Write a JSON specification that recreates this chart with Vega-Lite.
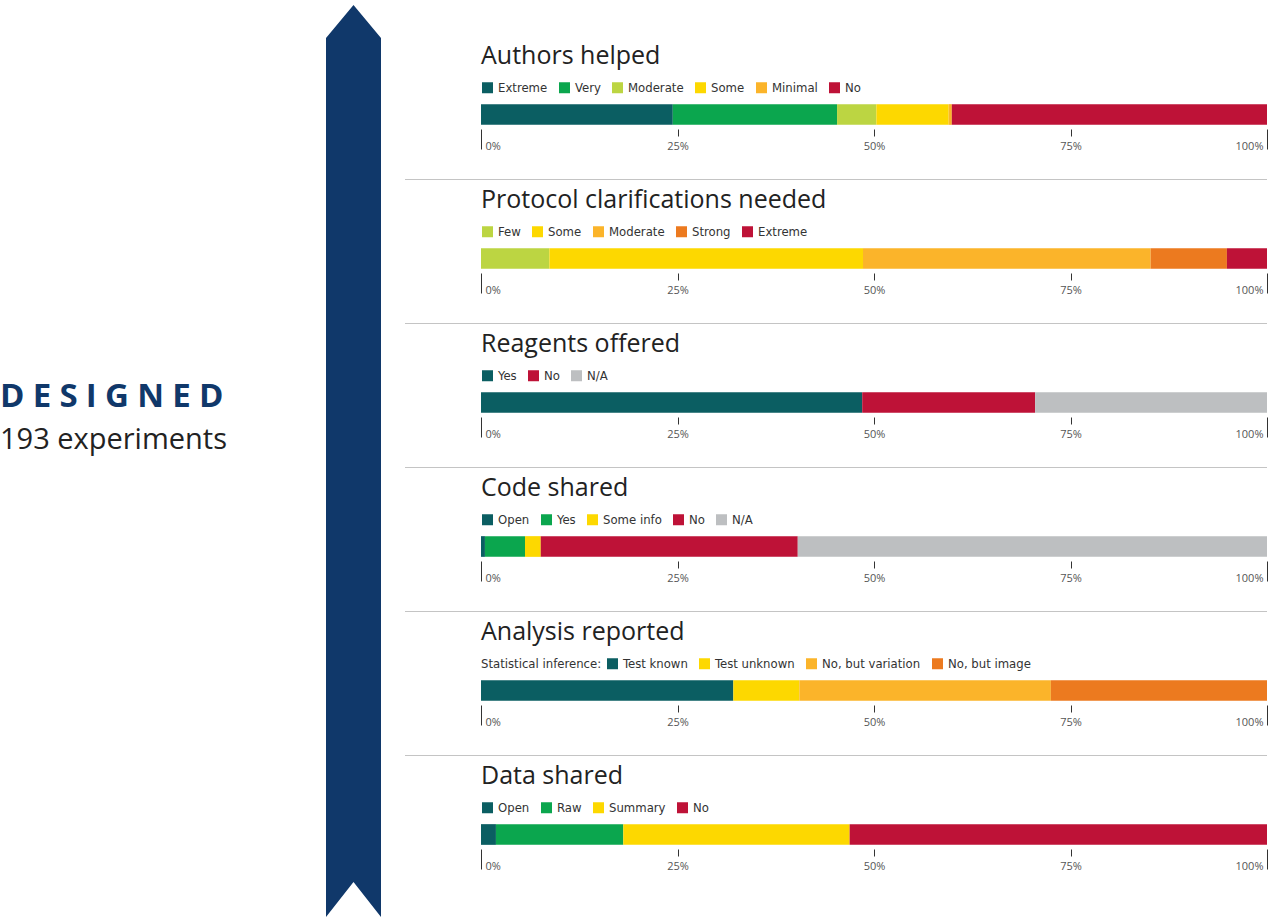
{
  "$schema": "https://vega.github.io/schema/vega-lite/v6.json",
  "background": "white",
  "padding": {"left": 0, "top": 5, "right": 5, "bottom": 5},
  "config": {
    "view": {"stroke": null},
    "title": {"anchor": "start", "dx": 76, "fontSize": 25, "font": "Open Sans", "fontWeight": "normal", "color": "#222222", "offset": 12},
    "legend": {"title": null, "orient": "none", "legendX": 76, "legendY": -22, "direction": "horizontal", "symbolType": "square", "symbolSize": 121, "symbolStrokeWidth": 0, "symbolOpacity": 1, "labelFont": "DejaVu Sans Condensed", "labelFontSize": 13, "labelColor": "#333333", "columnPadding": 10, "labelOffset": 4},
    "axisX": {"format": ".0%", "title": null, "domain": false, "grid": false, "offset": 3, "tickColor": "#333333", "labelFont": "Open Sans", "labelFontSize": 11, "labelColor": "#555555",
      "tickSize": {"expr": "datum.value == 0 || datum.value == 1 ? 20 : 7"},
      "labelPadding": {"expr": "datum.value == 0 || datum.value == 1 ? -9 : 4"},
      "labelAlign": {"expr": "datum.value == 0 ? 'left' : datum.value == 1 ? 'right' : 'center'"},
      "labelOffset": {"expr": "datum.value == 0 ? 4 : datum.value == 1 ? -4 : 0"}}
  },
  "datasets": {
    "survey": [
      {"q": "Authors helped", "cat": "Extreme", "pct": 24.4, "i": 0},
      {"q": "Authors helped", "cat": "Very", "pct": 20.9, "i": 1},
      {"q": "Authors helped", "cat": "Moderate", "pct": 5.0, "i": 2},
      {"q": "Authors helped", "cat": "Some", "pct": 9.2, "i": 3},
      {"q": "Authors helped", "cat": "Minimal", "pct": 0.4, "i": 4},
      {"q": "Authors helped", "cat": "No", "pct": 40.1, "i": 5},
      {"q": "Protocol clarifications needed", "cat": "Few", "pct": 8.7, "i": 0},
      {"q": "Protocol clarifications needed", "cat": "Some", "pct": 39.9, "i": 1},
      {"q": "Protocol clarifications needed", "cat": "Moderate", "pct": 36.6, "i": 2},
      {"q": "Protocol clarifications needed", "cat": "Strong", "pct": 9.7, "i": 3},
      {"q": "Protocol clarifications needed", "cat": "Extreme", "pct": 5.1, "i": 4},
      {"q": "Reagents offered", "cat": "Yes", "pct": 48.5, "i": 0},
      {"q": "Reagents offered", "cat": "No", "pct": 22.0, "i": 1},
      {"q": "Reagents offered", "cat": "N/A", "pct": 29.5, "i": 2},
      {"q": "Code shared", "cat": "Open", "pct": 0.5, "i": 0},
      {"q": "Code shared", "cat": "Yes", "pct": 5.1, "i": 1},
      {"q": "Code shared", "cat": "Some info", "pct": 2.0, "i": 2},
      {"q": "Code shared", "cat": "No", "pct": 32.7, "i": 3},
      {"q": "Code shared", "cat": "N/A", "pct": 59.7, "i": 4},
      {"q": "Analysis reported", "cat": "Test known", "pct": 32.1, "i": 0},
      {"q": "Analysis reported", "cat": "Test unknown", "pct": 8.4, "i": 1},
      {"q": "Analysis reported", "cat": "No, but variation", "pct": 32.0, "i": 2},
      {"q": "Analysis reported", "cat": "No, but image", "pct": 27.5, "i": 3},
      {"q": "Data shared", "cat": "Open", "pct": 1.9, "i": 0},
      {"q": "Data shared", "cat": "Raw", "pct": 16.2, "i": 1},
      {"q": "Data shared", "cat": "Summary", "pct": 28.8, "i": 2},
      {"q": "Data shared", "cat": "No", "pct": 53.1, "i": 3}
    ],
    "one": [{"item": "blank"}]
  },
  "spacing": 24,
  "resolve": {"scale": {"color": "independent"}, "legend": {"color": "independent"}},
  "hconcat": [
    {
      "width": 302, "height": 372,
      "data": {"name": "one"},
      "title": {"text": "D\u2005E\u2005S\u2005I\u2005G\u2005N\u2005E\u2005D", "subtitle": "193 experiments", "orient": "bottom", "anchor": "start", "dx": 0, "offset": 4,
        "font": "Open Sans", "fontSize": 33, "fontWeight": "bold", "color": "#10386a",
        "subtitleFont": "Open Sans", "subtitleFontSize": 29, "subtitleColor": "#222222", "subtitlePadding": 12},
      "mark": {"type": "text", "text": ""},
      "encoding": {}
    },
    {
      "width": 55, "height": 912,
      "data": {"name": "one"},
      "mark": {"type": "point", "filled": true, "opacity": 1, "strokeWidth": 0, "color": "#10386a", "size": 831744,
        "shape": "M0,-1L0.0603,-0.9276L0.0603,1L0,0.9232L-0.0603,1L-0.0603,-0.9276Z"},
      "encoding": {}
    },
    {
      "spacing": 3,
      "resolve": {"scale": {"color": "independent"}, "legend": {"color": "independent"}},
      "vconcat": [
        {"width": 862, "height": 36, "data": {"name": "one"}, "mark": {"type": "text", "text": ""}, "encoding": {}},
        {
          "width": 862, "height": 23,
          "data": {"name": "survey"},
          "transform": [{"filter": "datum.q == 'Authors helped'"}],
          "title": "Authors helped",
          "mark": {"type": "bar"},
          "encoding": {
            "x": {"field": "pct", "type": "quantitative", "stack": "normalize", "scale": {"domain": [-0.0967, 1], "nice": false, "zero": false},
              "axis": {"values": [0, 0.25, 0.5, 0.75, 1]}},
            "color": {"field": "cat", "type": "nominal",
              "scale": {"domain": ["Extreme", "Very", "Moderate", "Some", "Minimal", "No"], "range": ["#0b5e62", "#0ba64e", "#bcd542", "#fdd800", "#fbb42a", "#be1237"]}},
            "order": {"field": "i"}
          }
        },
        {"width": 862, "height": 16, "data": {"name": "one"}, "mark": {"type": "text", "text": ""}, "encoding": {}},
        {"width": 862, "height": 1, "data": {"name": "one"}, "view": {"fill": "#c4c4c4", "stroke": null}, "mark": {"type": "text", "text": ""}, "encoding": {}},
        {
          "width": 862, "height": 23,
          "data": {"name": "survey"},
          "transform": [{"filter": "datum.q == 'Protocol clarifications needed'"}],
          "title": "Protocol clarifications needed",
          "mark": {"type": "bar"},
          "encoding": {
            "x": {"field": "pct", "type": "quantitative", "stack": "normalize", "scale": {"domain": [-0.0967, 1], "nice": false, "zero": false},
              "axis": {"values": [0, 0.25, 0.5, 0.75, 1]}},
            "color": {"field": "cat", "type": "nominal",
              "scale": {"domain": ["Few", "Some", "Moderate", "Strong", "Extreme"], "range": ["#bcd542", "#fdd800", "#fbb42a", "#ec7a1f", "#be1237"]}},
            "order": {"field": "i"}
          }
        },
        {"width": 862, "height": 16, "data": {"name": "one"}, "mark": {"type": "text", "text": ""}, "encoding": {}},
        {"width": 862, "height": 1, "data": {"name": "one"}, "view": {"fill": "#c4c4c4", "stroke": null}, "mark": {"type": "text", "text": ""}, "encoding": {}},
        {
          "width": 862, "height": 23,
          "data": {"name": "survey"},
          "transform": [{"filter": "datum.q == 'Reagents offered'"}],
          "title": "Reagents offered",
          "mark": {"type": "bar"},
          "encoding": {
            "x": {"field": "pct", "type": "quantitative", "stack": "normalize", "scale": {"domain": [-0.0967, 1], "nice": false, "zero": false},
              "axis": {"values": [0, 0.25, 0.5, 0.75, 1]}},
            "color": {"field": "cat", "type": "nominal",
              "scale": {"domain": ["Yes", "No", "N/A"], "range": ["#0b5e62", "#be1237", "#bdbfc1"]}},
            "order": {"field": "i"}
          }
        },
        {"width": 862, "height": 16, "data": {"name": "one"}, "mark": {"type": "text", "text": ""}, "encoding": {}},
        {"width": 862, "height": 1, "data": {"name": "one"}, "view": {"fill": "#c4c4c4", "stroke": null}, "mark": {"type": "text", "text": ""}, "encoding": {}},
        {
          "width": 862, "height": 23,
          "data": {"name": "survey"},
          "transform": [{"filter": "datum.q == 'Code shared'"}],
          "title": "Code shared",
          "mark": {"type": "bar"},
          "encoding": {
            "x": {"field": "pct", "type": "quantitative", "stack": "normalize", "scale": {"domain": [-0.0967, 1], "nice": false, "zero": false},
              "axis": {"values": [0, 0.25, 0.5, 0.75, 1]}},
            "color": {"field": "cat", "type": "nominal",
              "scale": {"domain": ["Open", "Yes", "Some info", "No", "N/A"], "range": ["#0b5e62", "#0ba64e", "#fdd800", "#be1237", "#bdbfc1"]}},
            "order": {"field": "i"}
          }
        },
        {"width": 862, "height": 16, "data": {"name": "one"}, "mark": {"type": "text", "text": ""}, "encoding": {}},
        {"width": 862, "height": 1, "data": {"name": "one"}, "view": {"fill": "#c4c4c4", "stroke": null}, "mark": {"type": "text", "text": ""}, "encoding": {}},
        {
          "width": 862, "height": 23,
          "data": {"name": "survey"},
          "transform": [{"filter": "datum.q == 'Analysis reported'"}],
          "title": "Analysis reported",
          "mark": {"type": "bar"},
          "encoding": {
            "x": {"field": "pct", "type": "quantitative", "stack": "normalize", "scale": {"domain": [-0.0967, 1], "nice": false, "zero": false},
              "axis": {"values": [0, 0.25, 0.5, 0.75, 1]}},
            "color": {"field": "cat", "type": "nominal",
              "scale": {"domain": ["Test known", "Test unknown", "No, but variation", "No, but image"], "range": ["#0b5e62", "#fdd800", "#fbb42a", "#ec7a1f"]},
              "legend": {"title": "Statistical inference:", "titleOrient": "left", "titleFont": "DejaVu Sans Condensed", "titleFontSize": 13, "titleFontWeight": "normal", "titleColor": "#333333", "titlePadding": 4}},
            "order": {"field": "i"}
          }
        },
        {"width": 862, "height": 16, "data": {"name": "one"}, "mark": {"type": "text", "text": ""}, "encoding": {}},
        {"width": 862, "height": 1, "data": {"name": "one"}, "view": {"fill": "#c4c4c4", "stroke": null}, "mark": {"type": "text", "text": ""}, "encoding": {}},
        {
          "width": 862, "height": 23,
          "data": {"name": "survey"},
          "transform": [{"filter": "datum.q == 'Data shared'"}],
          "title": "Data shared",
          "mark": {"type": "bar"},
          "encoding": {
            "x": {"field": "pct", "type": "quantitative", "stack": "normalize", "scale": {"domain": [-0.0967, 1], "nice": false, "zero": false},
              "axis": {"values": [0, 0.25, 0.5, 0.75, 1]}},
            "color": {"field": "cat", "type": "nominal",
              "scale": {"domain": ["Open", "Raw", "Summary", "No"], "range": ["#0b5e62", "#0ba64e", "#fdd800", "#be1237"]}},
            "order": {"field": "i"}
          }
        }
      ]
    }
  ]
}
